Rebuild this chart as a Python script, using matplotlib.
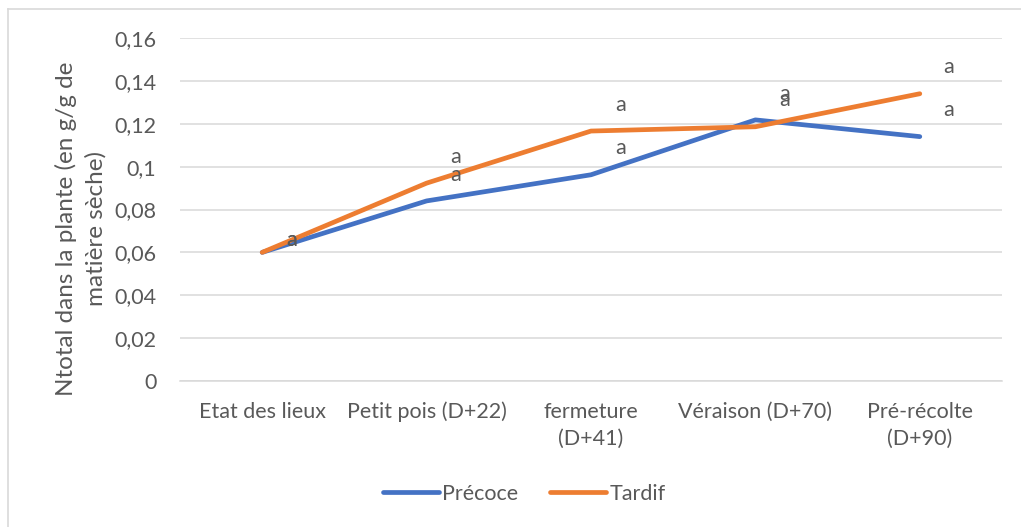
import matplotlib
matplotlib.use("Agg")
import matplotlib.pyplot as plt
from matplotlib.lines import Line2D

categories = ["Etat des lieux", "Petit pois (D+22)", "fermeture\n(D+41)",
              "Véraison (D+70)", "Pré-récolte\n(D+90)"]
precoce = [0.060, 0.084, 0.0962, 0.1218, 0.1140]
tardif = [0.060, 0.0923, 0.1166, 0.1186, 0.1340]
labels_precoce = ["a", "a", "a", "a", "a"]
labels_tardif = ["a", "a", "a", "a", "a"]
yticks = [0, 0.02, 0.04, 0.06, 0.08, 0.1, 0.12, 0.14, 0.16]
ytick_labels = ["0", "0,02", "0,04", "0,06", "0,08", "0,1", "0,12", "0,14", "0,16"]

plt.rcParams['font.family'] = ['Lato', 'DejaVu Sans']
txt = "#595959"
blue = "#4472C4"
orange = "#ED7D31"
fs = 15.5

W, H = 1021, 527
fig = plt.figure(figsize=(W / 100, H / 100), dpi=100)
ax = fig.add_axes([180 / W, 1 - 381 / H, (1002 - 180) / W, (381 - 38) / H])

x = list(range(len(categories)))
ax.plot(x, precoce, color=blue, lw=3.4, solid_capstyle='round', solid_joinstyle='round', zorder=3)
ax.plot(x, tardif, color=orange, lw=3.4, solid_capstyle='round', solid_joinstyle='round', zorder=4)

# label offsets in points (first category labels sit closer to the line)
offsets = [(21, 9), (21, 19), (21, 19), (21, 19), (21, 19)]
for series, labs in ((precoce, labels_precoce), (tardif, labels_tardif)):
    for xi, v, l, off in zip(x, series, labs, offsets):
        ax.annotate(l, (xi, v), xytext=off, textcoords='offset points',
                    ha='center', va='center', fontsize=fs, color=txt, zorder=5)

ax.set_xlim(-0.5, len(categories) - 0.5)
ax.set_ylim(0, 0.16)
ax.set_yticks(yticks)
ax.set_yticklabels(ytick_labels)
ax.set_xticks(x)
ax.set_xticklabels(categories, linespacing=1.45)
ax.tick_params(axis='both', length=0, labelsize=fs, colors=txt)
ax.tick_params(axis='y', pad=17)
ax.tick_params(axis='x', pad=15)
ax.grid(axis='y', color='#D9D9D9', lw=1.1)
ax.set_axisbelow(True)
for s in ['top', 'right', 'left']:
    ax.spines[s].set_visible(False)
ax.spines['bottom'].set_color('#D9D9D9')
ax.spines['bottom'].set_linewidth(1.1)

fig.text(81 / W, 1 - 229 / H, "Ntotal dans la plante (en g/g de\nmatière sèche)",
         rotation=90, ha='center', va='center', fontsize=17.5, color=txt,
         linespacing=1.45, multialignment='center')

handles = [Line2D([], [], color=blue, lw=3.4, solid_capstyle='round'),
           Line2D([], [], color=orange, lw=3.4, solid_capstyle='round')]
fig.legend(handles, ["Précoce", "Tardif"], loc='center', bbox_to_anchor=(524 / W, 1 - 494 / H),
           ncol=2, frameon=False, fontsize=fs, labelcolor=txt, handlelength=2.6,
           handletextpad=0.15, columnspacing=1.5)

# outer chart border (top and left visible)
fig.add_artist(Line2D([8 / W, 8 / W], [0, 1 - 9 / H], color='#D9D9D9', lw=1.2, transform=fig.transFigure))
fig.add_artist(Line2D([8 / W, 1], [1 - 9 / H, 1 - 9 / H], color='#D9D9D9', lw=1.2, transform=fig.transFigure))

fig.savefig("out.png", dpi=100, facecolor='white')
